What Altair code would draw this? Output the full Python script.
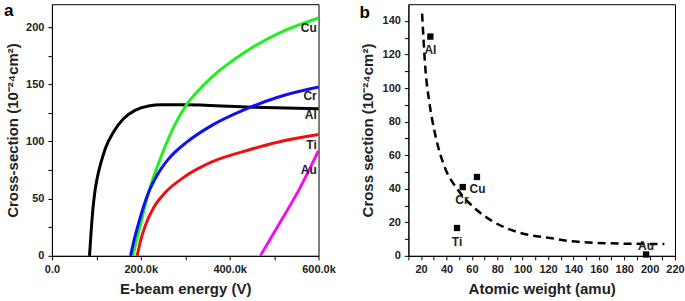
import altair as alt
import pandas as pd

FONT = "Liberation Sans"

# ---------------- Panel a: cross-section vs e-beam energy ----------------
al_x = [84600, 88000, 92000, 97000, 103000, 110000, 120000, 138600, 161000, 187000, 217000, 247000, 300000, 435000, 600000]
al_y = [0, 20, 40, 57, 70, 81, 93.7, 108.3, 119.9, 127.2, 131, 132.1, 132, 130.1, 128.7]
cu_x = [182000, 190000, 199000, 218000, 244000, 276000, 302000, 326500, 360000, 435000, 510000, 585000, 600000]
cu_y = [0, 13, 26.8, 55.9, 85, 114.1, 131.6, 143.2, 156.3, 178.2, 194.5, 206, 208]
cr_x = [177000, 185000, 195500, 207000, 218000, 236700, 263000, 304000, 360000, 439000, 510000, 600000]
cr_y = [0, 14, 29, 44, 55.9, 70.5, 85, 99.6, 114.1, 128.7, 138.9, 147.6]
ti_x = [191700, 200000, 210500, 230000, 255500, 300000, 360000, 442700, 510000, 600000]
ti_y = [0, 14, 26.8, 43, 55.5, 69.5, 82.1, 92.5, 99.5, 106]
au_x = [469000, 510000, 555000, 600000]
au_y = [0, 27, 57, 92]

series_names = ["Cu", "Cr", "Al", "Ti", "Au"]
series_colors = ["#22ee22", "#1010ee", "#000000", "#ee1010", "#ee10ee"]

label_names = ["Cu", "Cr", "Al", "Ti", "Au"]
label_x = [596000, 596000, 596000, 596000, 596000]
label_y = [199, 139.7, 123.4, 96.7, 74.8]

rows = []
for name, xs, ys in [("Al", al_x, al_y), ("Cu", cu_x, cu_y), ("Cr", cr_x, cr_y),
                     ("Ti", ti_x, ti_y), ("Au", au_x, au_y)]:
    for xv, yv in zip(xs, ys):
        rows.append({"series": name, "energy": xv, "cs": yv})
df_a = pd.DataFrame(rows)
df_a_lab = pd.DataFrame({"name": label_names, "energy": label_x, "cs": label_y})

x_a = alt.X("energy:Q", scale=alt.Scale(domain=[0, 600000], nice=False),
            axis=alt.Axis(title="E-beam energy (V)", labelOverlap=False, tickCount=50,
                          values=[0, 100000, 200000, 300000, 400000, 500000, 600000],
                          labelExpr="datum.value == 0 ? '0.0' : (datum.value % 200000 == 0 ? format(datum.value/1000, '.1f') + 'k' : '')"))
y_a = alt.Y("cs:Q", scale=alt.Scale(domain=[0, 220], nice=False),
            axis=alt.Axis(title="Cross-section (10⁻²⁴cm²)", labelOverlap=False, tickCount=50,
                          titlePadding=5,
                          values=[0, 25, 50, 75, 100, 125, 150, 175, 200],
                          labelExpr="datum.value % 50 == 0 ? datum.label : ''"))

lines_a = alt.Chart(df_a).mark_line(strokeWidth=3, interpolate="monotone").encode(
    x=x_a, y=y_a,
    color=alt.Color("series:N", scale=alt.Scale(domain=series_names, range=series_colors), legend=None),
)
labels_a = alt.Chart(df_a_lab).mark_text(align="right", baseline="middle", fontSize=12,
                                         fontWeight="bold", font=FONT, color="#222").encode(
    x="energy:Q", y="cs:Q", text="name:N")
tag_a = alt.Chart(pd.DataFrame({"t": ["a"]})).mark_text(
    align="left", baseline="top", fontSize=17, fontWeight="bold", font=FONT, color="black").encode(
    x=alt.value(-48), y=alt.value(-1), text="t:N")

panel_a = alt.layer(lines_a, labels_a, tag_a).properties(width=267, height=252)

# ---------------- Panel b: cross-section vs atomic weight ----------------
elem_names = ["Al", "Cr", "Cu", "Ti", "Au"]
elem_weight = [27.3, 52.8, 64.0, 48.3, 197.2]
elem_cs = [130.7, 41, 47, 16.6, 0.8]
elem_label_x = [27.3, 64.5, 52.2, 48.3, 197.2]
elem_label_y = [122.5, 40, 33, 8.3, 5.9]
elem_label_text = ["Al", "Cu", "Cr", "Ti", "Au"]

fit_x = [20.8, 23.4, 26.5, 31.3, 39.1, 48.3, 62.7, 77.2, 95.5, 124.3, 138.7, 178, 211.6]
fit_y = [144.4, 111.3, 91.5, 71.7, 51.9, 40, 28.1, 20.2, 14.3, 10.3, 8.7, 7.3, 7.0]

df_pts = pd.DataFrame({"w": elem_weight, "cs": elem_cs, "name": elem_names})
df_lab = pd.DataFrame({"w": elem_label_x, "cs": elem_label_y, "name": elem_label_text})
df_fit = pd.DataFrame({"w": fit_x, "cs": fit_y})

x_b = alt.X("w:Q", scale=alt.Scale(domain=[10, 220], nice=False),
            axis=alt.Axis(title="Atomic weight (amu)", labelOverlap=False, tickCount=50,
                          values=list(range(10, 221, 10)),
                          labelExpr="datum.value % 20 == 0 ? datum.label : ''"))
y_b = alt.Y("cs:Q", scale=alt.Scale(domain=[0, 150], nice=False),
            axis=alt.Axis(title="Cross section (10⁻²⁴cm²)", labelOverlap=False, tickCount=50,
                          values=list(range(0, 141, 10)),
                          labelExpr="datum.value % 20 == 0 ? datum.label : ''"))

fit_line = alt.Chart(df_fit).mark_line(color="black", strokeWidth=2.5, strokeDash=[8, 5],
                                       interpolate="monotone").encode(x=x_b, y=y_b)
pts = alt.Chart(df_pts).mark_point(shape="square", filled=True, size=40, color="black", opacity=1).encode(
    x="w:Q", y="cs:Q")
labels_b = alt.Chart(df_lab).mark_text(align="center", baseline="middle", fontSize=12,
                                       fontWeight="bold", font=FONT, color="#222").encode(
    x="w:Q", y="cs:Q", text="name:N")
tag_b = alt.Chart(pd.DataFrame({"t": ["b"]})).mark_text(
    align="left", baseline="top", fontSize=17, fontWeight="bold", font=FONT, color="black").encode(
    x=alt.value(-49), y=alt.value(1), text="t:N")

panel_b = alt.layer(fit_line, pts, labels_b, tag_b).properties(width=267, height=252)

chart = alt.hconcat(panel_a, panel_b, spacing=22).properties(
    padding={"left": 3, "top": 1, "right": 0, "bottom": 0}
).configure_view(
    stroke="black", strokeWidth=1
).configure_axis(
    grid=False, domainColor="black", tickColor="black", tickSize=4,
    labelFont=FONT, labelFontSize=11, labelFontWeight="bold", labelColor="#222",
    labelPadding=4, labelOverlap=False, labelFlush=False,
    titleFont=FONT, titleFontSize=15, titleFontWeight="bold", titleColor="#222",
    titlePadding=7,
)

chart.save("out.html", embed_options={"renderer": "svg", "actions": False})
